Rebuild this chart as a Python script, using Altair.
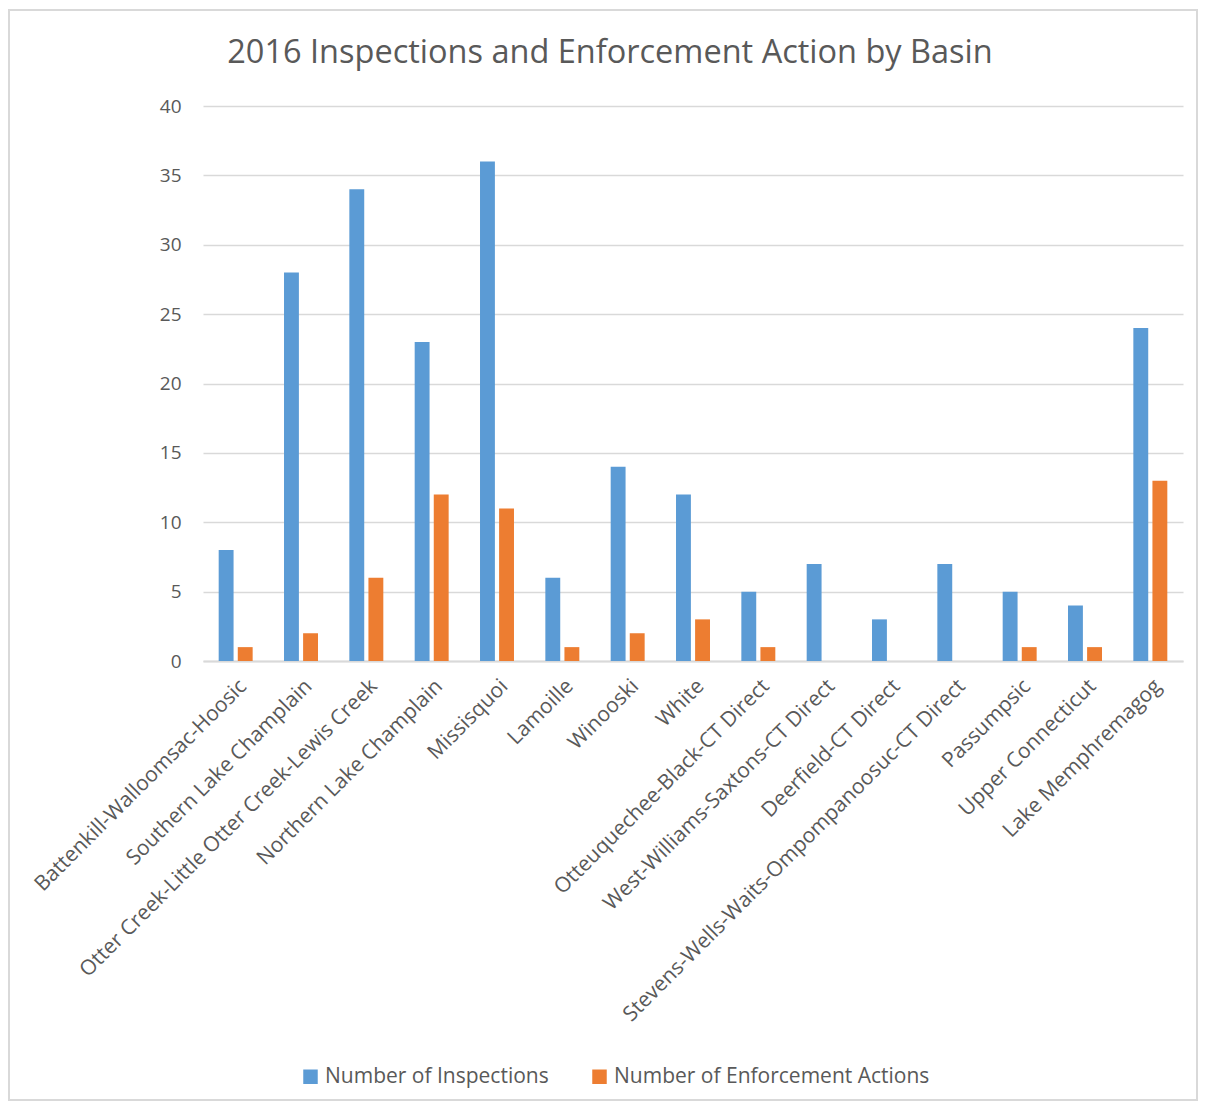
import altair as alt
import pandas as pd

basins = [
    "Battenkill-Walloomsac-Hoosic",
    "Southern Lake Champlain",
    "Otter Creek-Little Otter Creek-Lewis Creek",
    "Northern Lake Champlain",
    "Missisquoi",
    "Lamoille",
    "Winooski",
    "White",
    "Otteuquechee-Black-CT Direct",
    "West-Williams-Saxtons-CT Direct",
    "Deerfield-CT Direct",
    "Stevens-Wells-Waits-Ompompanoosuc-CT Direct",
    "Passumpsic",
    "Upper Connecticut",
    "Lake Memphremagog",
]
inspections = [8, 28, 34, 23, 36, 6, 14, 12, 5, 7, 3, 7, 5, 4, 24]
enforcement = [1, 2, 6, 12, 11, 1, 2, 3, 1, 0, 0, 0, 1, 1, 13]
series = ["Number of Inspections", "Number of Enforcement Actions"]
colors = ["#5B9BD5", "#ED7D31"]

rows = []
for b, i, e in zip(basins, inspections, enforcement):
    rows.append({"basin": b, "series": series[0], "value": i})
    rows.append({"basin": b, "series": series[1], "value": e})
df = pd.DataFrame(rows)

FONT = "Open Sans"
GREY = "#595959"

bars = alt.Chart(df).mark_bar().encode(
    x=alt.X("basin:N", sort=basins, title=None,
            scale=alt.Scale(paddingInner=0.48, paddingOuter=0.24),
            axis=alt.Axis(labelAngle=-45, labelFontSize=21, labelColor=GREY,
                          labelFont=FONT, domainColor="#d9d9d9", domainWidth=2,
                          ticks=False, labelPadding=14, labelLimit=600)),
    xOffset=alt.XOffset("series:N", sort=series,
                        scale=alt.Scale(paddingInner=0.22, paddingOuter=0)),
    y=alt.Y("value:Q", title=None,
            scale=alt.Scale(domain=[0, 40]),
            axis=alt.Axis(values=[0, 5, 10, 15, 20, 25, 30, 35, 40],
                          labelFontSize=19, labelColor=GREY, labelFont=FONT,
                          domain=False, ticks=False, labelPadding=22,
                          gridColor="#d9d9d9", gridWidth=1.5)),
    color=alt.Color("series:N", sort=series,
                    scale=alt.Scale(domain=series, range=colors),
                    legend=alt.Legend(title=None, orient="none", direction="horizontal",
                                      legendX=97, legendY=960,
                                      symbolType="square", symbolSize=210,
                                      symbolStrokeWidth=0, labelFontSize=21,
                                      labelFont=FONT, labelColor=GREY,
                                      columnPadding=40, symbolOffset=0,
                                      labelLimit=400)),
)

border = alt.Chart(df).mark_rect(fill=None, stroke="#d9d9d9", strokeWidth=1.5).encode(
    x=alt.value(-194), x2=alt.value(994), y=alt.value(-96), y2=alt.value(994)
)

chart = alt.layer(border, bars).properties(
    width=980,
    height=555,
    title=alt.TitleParams(
        "2016 Inspections and Enforcement Action by Basin",
        fontSize=32.5, font=FONT, fontWeight="normal", color=GREY,
        anchor="middle", dx=-83, dy=60, offset=0,
    ),
    autosize=alt.AutoSizeParams(type="none"),
    padding={"left": 195, "top": 98, "right": 16, "bottom": 444},
).configure_view(stroke=None)

chart.save("out.html", embed_options={"renderer": "svg", "actions": False})
